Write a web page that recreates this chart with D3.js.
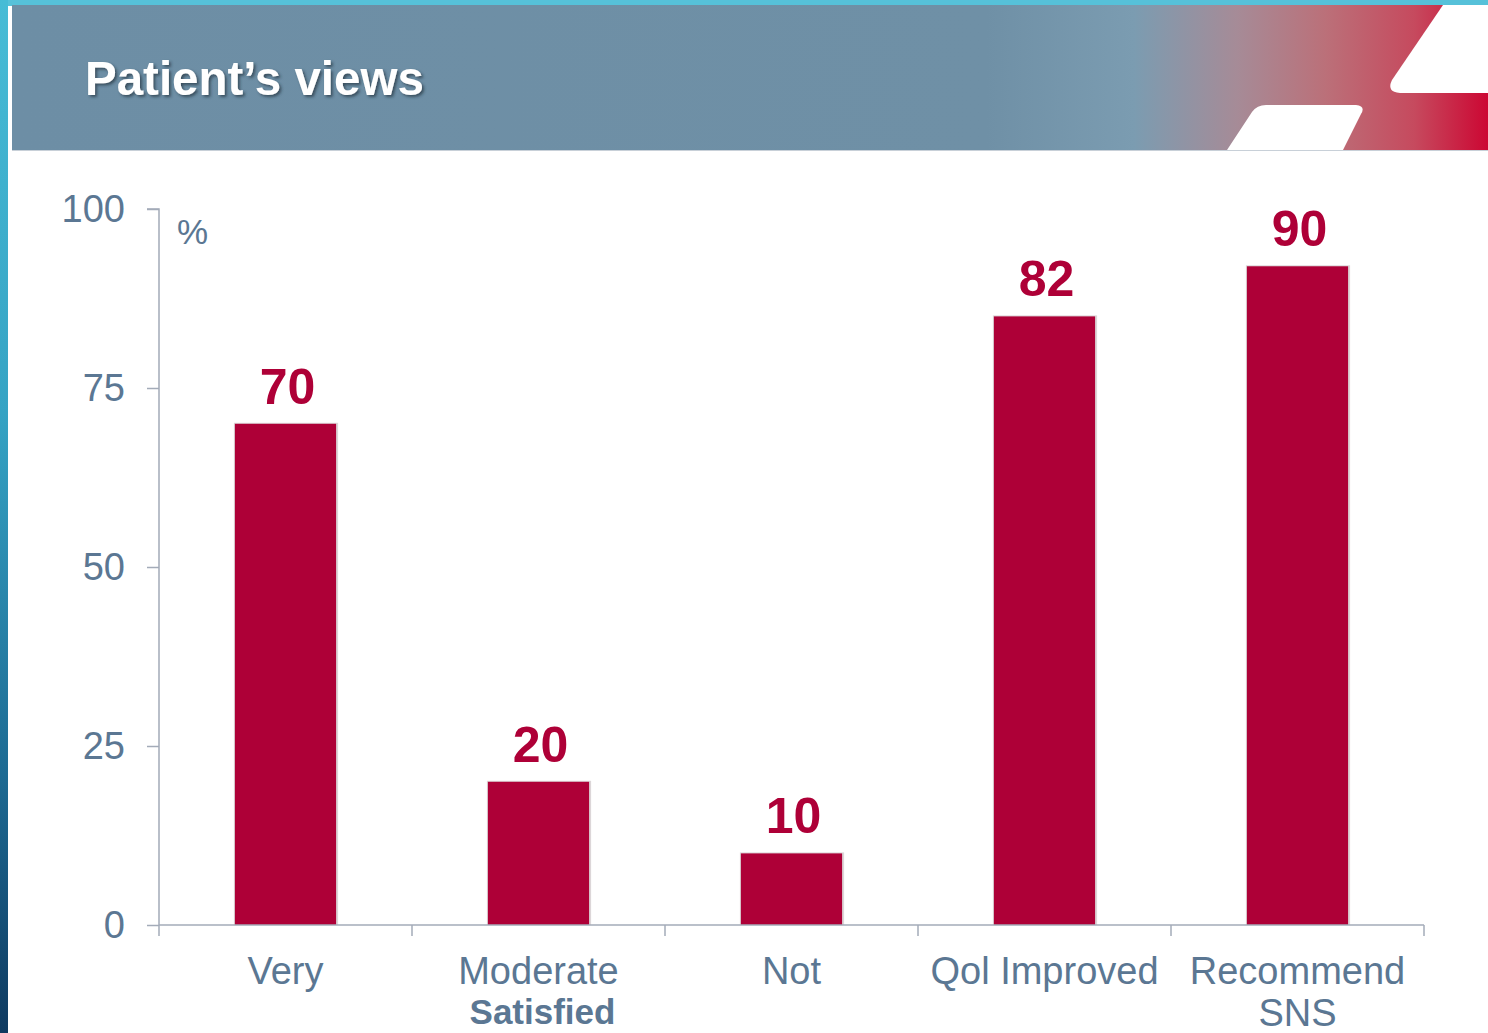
<!DOCTYPE html>
<html><head><meta charset="utf-8">
<script src="https://cdn.jsdelivr.net/npm/d3@7"></script>
<style>html,body{margin:0;padding:0;background:#fff;overflow:hidden}</style>
</head><body>
<svg id="chart" width="1488" height="1033"></svg>
<script>
const title = "Patient’s views";
const categories = ["Very", "Moderate", "Not", "Qol Improved", "Recommend SNS"];
const categoryLines = [["Very"], ["Moderate"], ["Not"], ["Qol Improved"], ["Recommend", "SNS"]];
const barValues = [70, 20, 10, 85, 92];
const valueLabels = ["70", "20", "10", "82", "90"];
const yTicks = [0, 25, 50, 75, 100];
const groupLabel = "Satisfied";
const unitLabel = "%";

const svg = d3.select("#chart");
const W = 1488, H = 1033;
const defs = svg.append("defs");

// background decorations
const lg = defs.append("linearGradient").attr("id","leftStrip").attr("x1",0).attr("y1",0).attr("x2",0).attr("y2",1);
lg.append("stop").attr("offset","0%").attr("stop-color","#47bcd6");
lg.append("stop").attr("offset","40%").attr("stop-color","#35a3c4");
lg.append("stop").attr("offset","75%").attr("stop-color","#1d6a93");
lg.append("stop").attr("offset","100%").attr("stop-color","#0f3a60");
const hg = defs.append("linearGradient").attr("id","header").attr("x1",0).attr("y1",0).attr("x2",1).attr("y2",0);
hg.append("stop").attr("offset","0%").attr("stop-color","#6d8ea5");
hg.append("stop").attr("offset","66%").attr("stop-color","#6f90a6");
hg.append("stop").attr("offset","76%").attr("stop-color","#7b9cb1");
hg.append("stop").attr("offset","83%").attr("stop-color","#a68b97");
hg.append("stop").attr("offset","89%").attr("stop-color","#bb7079");
hg.append("stop").attr("offset","95%").attr("stop-color","#c64a5e");
hg.append("stop").attr("offset","100%").attr("stop-color","#cc0733");
const sh = defs.append("filter").attr("id","tshadow").attr("x","-10%").attr("y","-20%").attr("width","130%").attr("height","150%");
sh.append("feDropShadow").attr("dx",2).attr("dy",2).attr("stdDeviation",1.5).attr("flood-color","#203040").attr("flood-opacity",0.7);

svg.append("rect").attr("x",0).attr("y",0).attr("width",W).attr("height",6).attr("fill","#56c1d9");
svg.append("rect").attr("x",0).attr("y",0).attr("width",8).attr("height",H).attr("fill","url(#leftStrip)");
svg.append("rect").attr("x",12).attr("y",5).attr("width",W-12).attr("height",145).attr("fill","url(#header)");
svg.append("line").attr("x1",12).attr("x2",W).attr("y1",150.5).attr("y2",150.5).attr("stroke","#c8d0d8").attr("stroke-width",1);
// white slanted shapes
svg.append("path").attr("fill","#fff")
  .attr("d","M1227,150 L1252,112 Q1257,105 1266,105 L1356,105 Q1366,106 1361,114 L1343,150 Z");
svg.append("path").attr("fill","#fff")
  .attr("d","M1443,5 L1392,80 Q1386,92 1400,93 L1488,93 L1488,5 Z");

svg.append("text").attr("x",85).attr("y",95).attr("fill","#ffffff")
  .attr("font-family","Liberation Sans, Arial, sans-serif").attr("font-weight","bold")
  .attr("font-size",47.5).attr("filter","url(#tshadow)").text(title);

// scales
const x0 = 159, x1 = 1424, yBottom = 925, yTop = 209;
const x = d3.scaleBand().domain(categories).range([x0, x1]).paddingInner(0.6).paddingOuter(0.3);
const y = d3.scaleLinear().domain([0, 100]).range([yBottom, yTop]);

const axisColor = "#a3abb8";
const textColor = "#5b7793";
const font = "Liberation Sans, Arial, sans-serif";

// y axis
const yAxis = svg.append("g").attr("transform", `translate(${x0},0)`)
  .call(d3.axisLeft(y).tickValues(yTicks).tickSize(12).tickPadding(22));
yAxis.select(".domain").attr("stroke", axisColor).attr("stroke-width",1.5).attr("d", `M-12,${yTop}H0V${yBottom}`);
yAxis.selectAll(".tick line").attr("stroke", axisColor).attr("stroke-width",1.5);
yAxis.selectAll(".tick text").attr("fill", textColor).attr("font-family", font).attr("font-size", 38);

svg.append("text").attr("x",177).attr("y",244).attr("fill",textColor)
  .attr("font-family",font).attr("font-size",35).text(unitLabel);

// bars
const bw = x.bandwidth();
svg.append("g").selectAll("rect.shadow").data(categories).join("rect")
  .attr("x", d => x(d) - 1).attr("y", (d,i) => y(barValues[i]) - 1)
  .attr("width", bw + 3).attr("height", (d,i) => yBottom - y(barValues[i]) + 1)
  .attr("fill", "#dcd6d8");
svg.append("g").selectAll("rect.bar").data(categories).join("rect")
  .attr("x", d => x(d)).attr("y", (d,i) => y(barValues[i]))
  .attr("width", bw).attr("height", (d,i) => yBottom - y(barValues[i]))
  .attr("fill", "#ae0037");

// value labels
svg.append("g").selectAll("text").data(categories).join("text")
  .attr("x", d => x(d) + bw/2 + 2).attr("y", (d,i) => y(barValues[i]) - 20)
  .attr("text-anchor","middle").attr("fill","#ae0037")
  .attr("font-family",font).attr("font-weight","bold").attr("font-size",50)
  .text((d,i) => valueLabels[i]);

// x axis
const step = x.step();
const bounds = categories.map(d => x(d) - x.paddingInner()*step/2);
bounds.push(x(categories[categories.length-1]) + bw + x.paddingInner()*step/2);
const xg = svg.append("g");
xg.append("line").attr("x1",x0).attr("x2",x1).attr("y1",yBottom).attr("y2",yBottom)
  .attr("stroke",axisColor).attr("stroke-width",1.5);
xg.selectAll("line.tick").data(bounds).join("line").attr("class","tick")
  .attr("x1",d=>d).attr("x2",d=>d).attr("y1",yBottom).attr("y2",yBottom+11)
  .attr("stroke",axisColor).attr("stroke-width",1.5);

const catG = svg.append("g").selectAll("text").data(categories).join("text")
  .attr("x", d => x(d) + bw/2).attr("y", 984)
  .attr("text-anchor","middle").attr("fill",textColor)
  .attr("font-family",font).attr("font-size",38);
catG.each(function(d,i){
  const t = d3.select(this);
  categoryLines[i].forEach((ln,j) => {
    t.append("tspan").attr("x", x(d) + bw/2).attr("dy", j === 0 ? 0 : 42).text(ln);
  });
});

svg.append("text").attr("x", x(categories[1]) + bw/2 + 4).attr("y", 1024)
  .attr("text-anchor","middle").attr("fill",textColor)
  .attr("font-family",font).attr("font-weight","bold").attr("font-size",35).text(groupLabel);
</script>
</body></html>
